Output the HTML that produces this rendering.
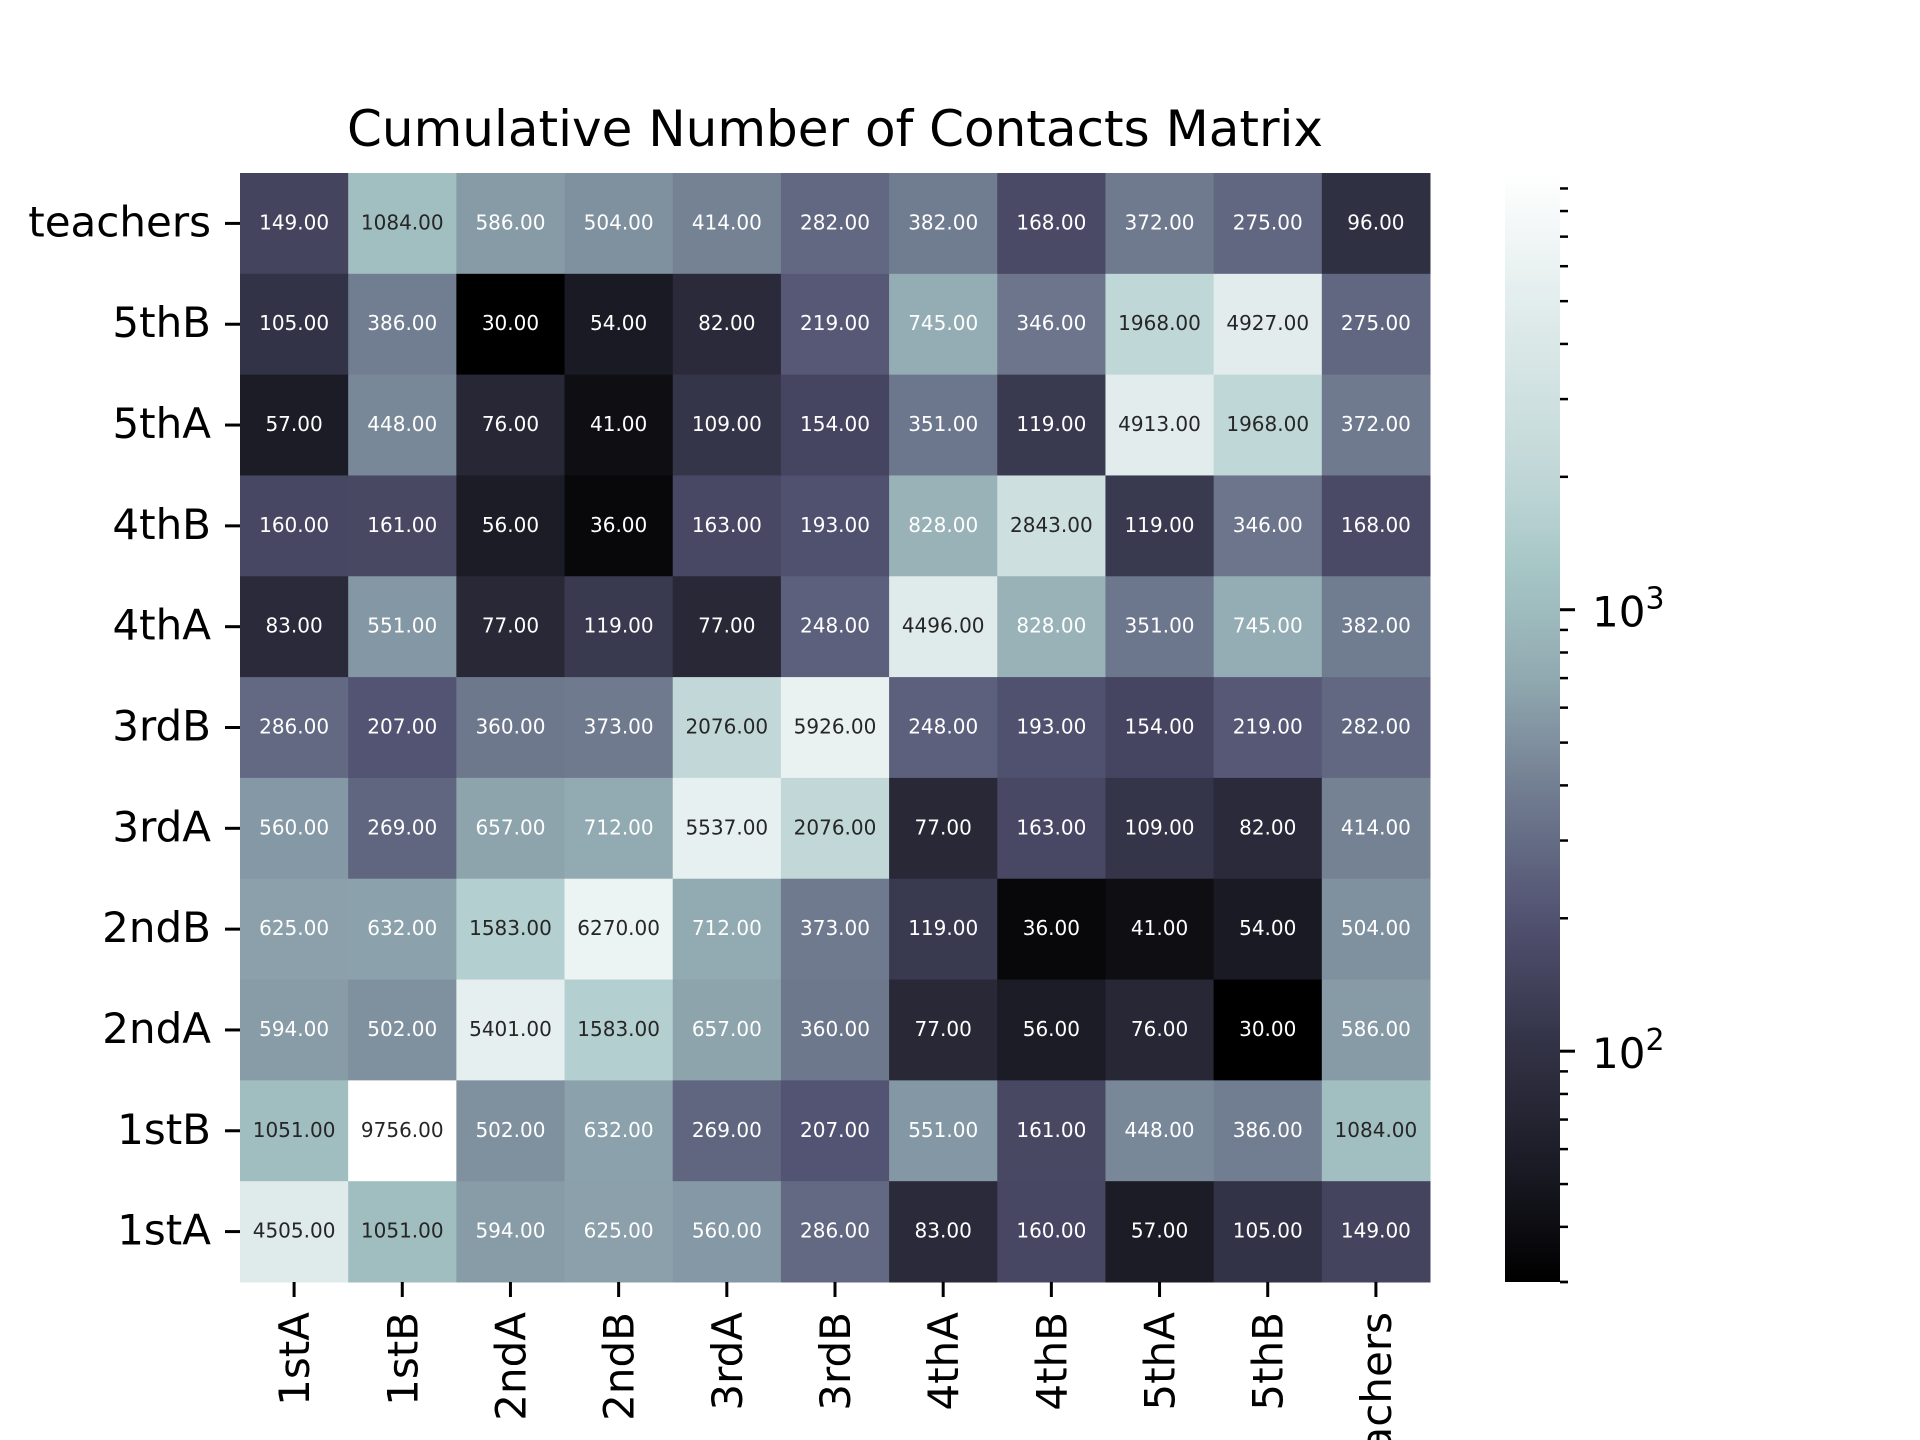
<!DOCTYPE html>
<html><head><meta charset="utf-8"><style>
html,body{margin:0;padding:0;background:#fff;}
svg{display:block;font-family:"DejaVu Sans","Liberation Sans",sans-serif;}
</style></head><body>
<svg id="chart" width="1920" height="1440" viewBox="0 0 1920 1440" xmlns="http://www.w3.org/2000/svg">
<rect width="1920" height="1440" fill="#fff"/>
<text x="835" y="146" font-size="50" text-anchor="middle" fill="#000">Cumulative Number of Contacts Matrix</text>
<g id="cells"></g><g id="xticks"></g><g id="yticks"></g><g id="cbar"></g>
</svg>
<script>
const colLabels = ["1stA","1stB","2ndA","2ndB","3rdA","3rdB","4thA","4thB","5thA","5thB","teachers"];
const rowLabels = ["teachers","5thB","5thA","4thB","4thA","3rdB","3rdA","2ndB","2ndA","1stB","1stA"];
const rowTeachers = [149,1084,586,504,414,282,382,168,372,275,96];
const row5thB = [105,386,30,54,82,219,745,346,1968,4927,275];
const row5thA = [57,448,76,41,109,154,351,119,4913,1968,372];
const row4thB = [160,161,56,36,163,193,828,2843,119,346,168];
const row4thA = [83,551,77,119,77,248,4496,828,351,745,382];
const row3rdB = [286,207,360,373,2076,5926,248,193,154,219,282];
const row3rdA = [560,269,657,712,5537,2076,77,163,109,82,414];
const row2ndB = [625,632,1583,6270,712,373,119,36,41,54,504];
const row2ndA = [594,502,5401,1583,657,360,77,56,76,30,586];
const row1stB = [1051,9756,502,632,269,207,551,161,448,386,1084];
const row1stA = [4505,1051,594,625,560,286,83,160,57,105,149];
const matrix = [rowTeachers,row5thB,row5thA,row4thB,row4thA,row3rdB,row3rdA,row2ndB,row2ndA,row1stB,row1stA];
const cbarMajorTicks = [100,1000];
const cbarMajorLabels = ["2","3"];

const NS="http://www.w3.org/2000/svg";
const L=240,R=1430,T=173,B=1282;
const vmin=Math.min(...matrix.flat()), vmax=Math.max(...matrix.flat());
const cw=(R-L)/colLabels.length, ch=(B-T)/rowLabels.length;
const xPos=i=>L+cw*i, yPos=j=>T+ch*j;
const norm=v=>(Math.log10(v)-Math.log10(vmin))/(Math.log10(vmax)-Math.log10(vmin));
function interp(pts,x){for(let i=1;i<pts.length;i++){if(x<=pts[i][0]){const a=pts[i-1],b=pts[i];return a[1]+(b[1]-a[1])*(x-a[0])/(b[0]-a[0]);}}return pts[pts.length-1][1];}
const tone=[[0,0],[0.1015,0.117],[0.2166,0.23],[0.442,0.506],[0.555,0.663],[0.723,0.819],[0.882,0.917],[1,1]];
function bone(u){u=Math.max(0,Math.min(1,u));const t=interp(tone,u);
 const r=interp([[0,0],[0.746032,0.652778],[1,1]],t);
 const g=interp([[0,0],[0.365079,0.319444],[0.746032,0.777778],[1,1]],t);
 const b=interp([[0,0],[0.365079,0.444444],[1,1]],t);return [r,g,b];}
function rgb(c){return "rgb("+c.map(v=>Math.round(v*255)).join(",")+")";}
function lum(c){const f=v=>v<=0.03928?v/12.92:Math.pow((v+0.055)/1.055,2.4);return 0.2126*f(c[0])+0.7152*f(c[1])+0.0722*f(c[2]);}
function mk(tag,attrs,parent){const e=document.createElementNS(NS,tag);for(const k in attrs)e.setAttribute(k,attrs[k]);parent.appendChild(e);return e;}

const cells=document.getElementById('cells');
matrix.forEach((row,j)=>row.forEach((v,i)=>{
 const c=bone(norm(v));
 const r=mk('rect',{x:xPos(i),y:yPos(j),width:cw+0.5,height:ch+0.5,fill:rgb(c)},cells);
 
 
 const t=mk('text',{x:xPos(i)+cw/2,y:yPos(j)+ch/2+6,'font-size':20,'text-anchor':'middle',fill:lum(c)>0.45?'#262626':'#ffffff'},cells);
 t.textContent=v.toFixed(2);
 
 
}));
const xt=document.getElementById('xticks');
colLabels.forEach((lab,i)=>{
 const x=xPos(i)+cw/2;
 mk('line',{x1:x,y1:B,x2:x,y2:B+15,stroke:'#000','stroke-width':3},xt);
 const t=mk('text',{x:0,y:0,'font-size':42,'text-anchor':'end',transform:`translate(${x+15},${B+30}) rotate(-90)`},xt);
 t.textContent=lab;
 
 
});
const yt=document.getElementById('yticks');
rowLabels.forEach((lab,j)=>{
 const y=yPos(j)+ch/2;
 mk('line',{x1:L-15,y1:y,x2:L,y2:y,stroke:'#000','stroke-width':3},yt);
 const t=mk('text',{x:L-29,y:y+13,'font-size':42,'text-anchor':'end'},yt);
 t.textContent=lab;
 
 
});
const cb=document.getElementById('cbar');
const CL=1505,CR=1560;
const cy=v=>B-norm(v)*(B-T);
const defs=mk('defs',{},cb);
const grad=mk('linearGradient',{id:'bonegrad',x1:0,y1:1,x2:0,y2:0},defs);
for(let k=0;k<=60;k++){mk('stop',{offset:k/60,'stop-color':rgb(bone(k/60))},grad);}
const cbr=mk('rect',{x:CL,y:T,width:CR-CL,height:B-T,fill:'url(#bonegrad)'},cb);


for(let d=1;d<=4;d++){for(let m=1;m<10;m++){const v=m*Math.pow(10,d);
 if(v<vmin||v>vmax)continue;
 const y=cy(v);
 mk('line',{x1:CR,y1:y,x2:CR+(m===1?15:8),y2:y,stroke:'#000','stroke-width':m===1?3:2.5},cb);}}
mk('line',{x1:CR,y1:cy(vmin),x2:CR+8,y2:cy(vmin),stroke:'#000','stroke-width':2.5},cb);
cbarMajorTicks.forEach((v,k)=>{
 const t=mk('text',{x:1592,y:cy(v)+17,'font-size':42},cb);
 t.textContent='10';
 const s=mk('tspan',{dy:-18,'font-size':30},t);
 s.textContent=cbarMajorLabels[k];
 
 
});
</script>
</body></html>
